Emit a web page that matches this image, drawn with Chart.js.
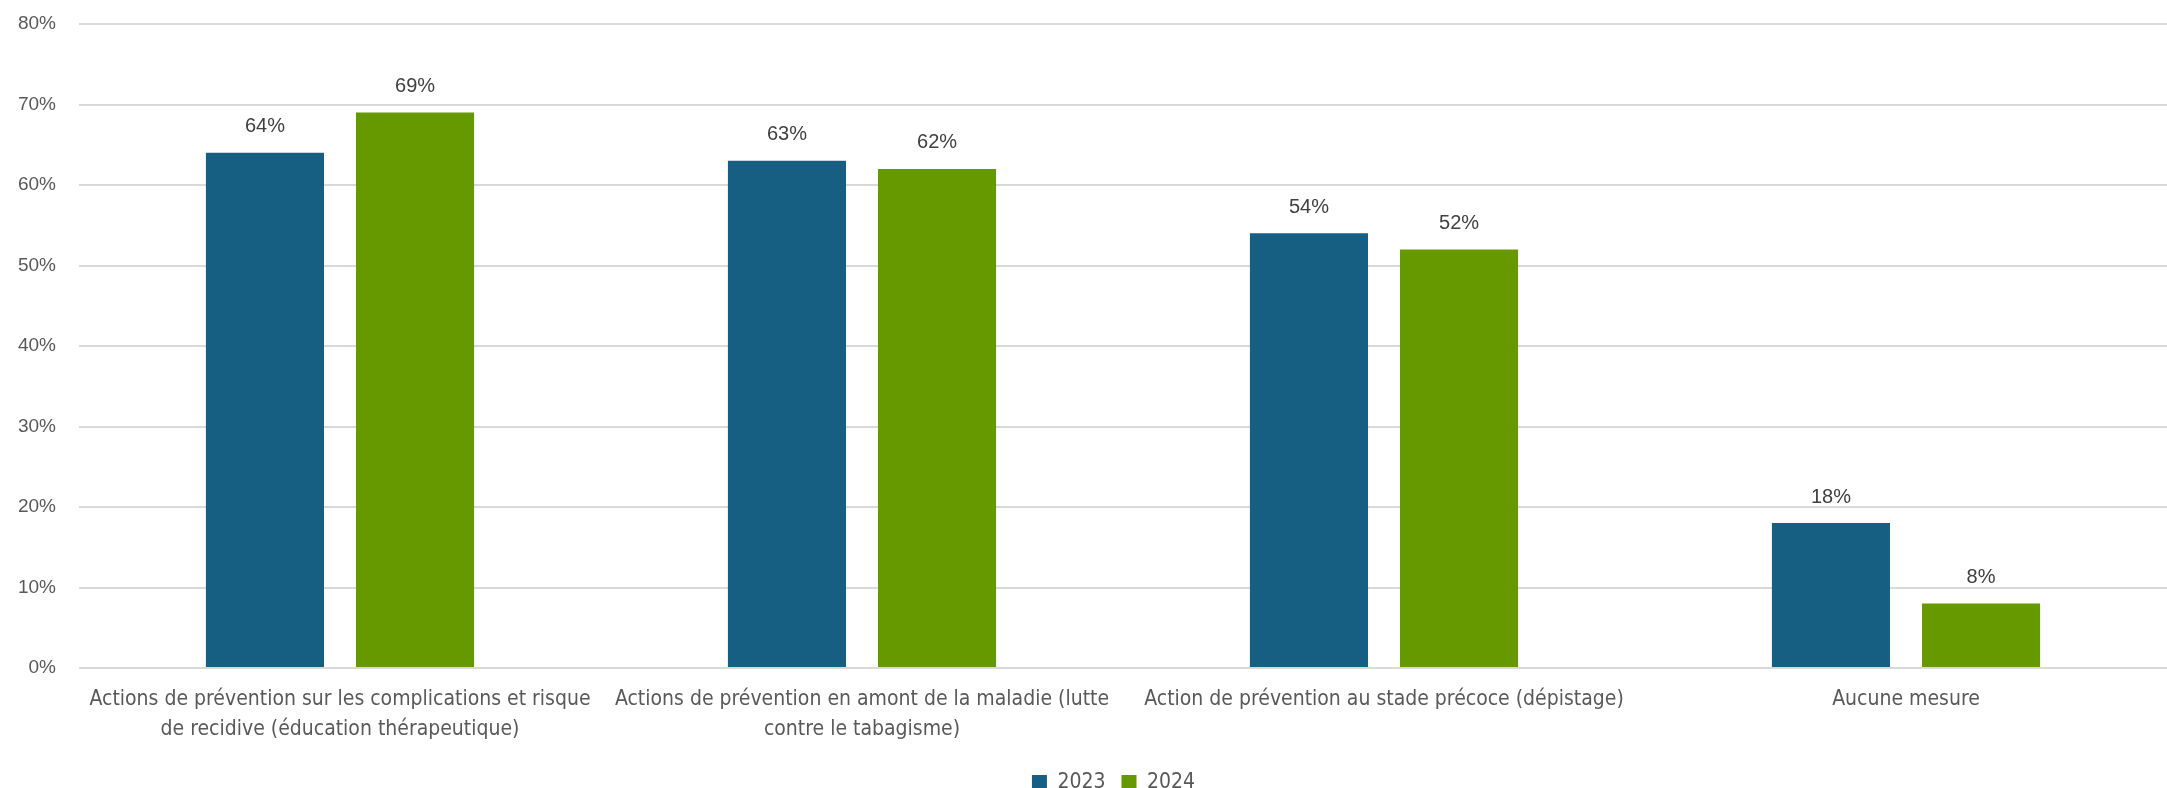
<!DOCTYPE html>
<html>
<head>
<meta charset="utf-8">
<script src="https://cdn.jsdelivr.net/npm/chart.js@4.4.1/dist/chart.umd.min.js"></script>
<style>
  html, body { margin: 0; padding: 0; background: #ffffff; }
  #wrap { width: 2167px; height: 788px; }
</style>
</head>
<body>
<div id="wrap"><canvas id="c" width="2167" height="788"></canvas></div>
<script>
const categories = [
  ["Actions de prévention sur les complications et risque", "de recidive (éducation thérapeutique)"],
  ["Actions de prévention en amont de la maladie (lutte", "contre le tabagisme)"],
  "Action de prévention au stade précoce (dépistage)",
  "Aucune mesure"
];
const seriesNames = ["2023", "2024"];
const values2023 = [64, 63, 54, 18];
const values2024 = [69, 62, 52, 8];
const yTicks = [0, 10, 20, 30, 40, 50, 60, 70, 80];

const BLUE = "#175F82";
const GREEN = "#669900";
const NARROW = "'DejaVu Sans Condensed', 'Liberation Sans', Arial, sans-serif";
const SANS = "'Liberation Sans', Arial, sans-serif";

const valueLabels = {
  id: "valueLabels",
  afterDatasetsDraw(chart) {
    const ctx = chart.ctx;
    ctx.save();
    ctx.font = "20px " + SANS;
    ctx.fillStyle = "#404040";
    ctx.textAlign = "center";
    ctx.textBaseline = "middle";
    chart.data.datasets.forEach((ds, i) => {
      const meta = chart.getDatasetMeta(i);
      meta.data.forEach((el, j) => {
        ctx.fillText(ds.data[j] + "%", el.x, el.y - 26);
      });
    });
    ctx.restore();
  }
};

const legendShift = {
  id: "legendShift",
  afterLayout(chart) {
    if (chart.legend) {
      chart.legend.left += 30;
      chart.legend.right += 30;
    }
  }
};

new Chart(document.getElementById("c"), {
  type: "bar",
  data: {
    labels: categories,
    datasets: [
      { label: seriesNames[0], data: values2023, backgroundColor: BLUE },
      { label: seriesNames[1], data: values2024, backgroundColor: GREEN }
    ]
  },
  options: {
    responsive: false,
    animation: false,
    devicePixelRatio: 1,
    layout: { padding: { top: 24, right: 0, left: 0, bottom: -15 } },
    datasets: { bar: { categoryPercentage: 0.575, barPercentage: 0.787 } },
    plugins: {
      tooltip: { enabled: false },
      legend: {
        position: "bottom",
        labels: {
          boxWidth: 15, boxHeight: 15, padding: 16,
          color: "#595959",
          font: { family: NARROW, size: 21 }
        }
      }
    },
    scales: {
      x: {
        grid: { display: false, drawTicks: false },
        border: { display: false },
        ticks: {
          color: "#595959",
          padding: 17,
          autoSkip: false,
          maxRotation: 0,
          font: { family: NARROW, size: 21, lineHeight: 1.4 }
        },
        afterFit(scale) { scale.height = 88; }
      },
      y: {
        min: 0, max: 80,
        afterBuildTicks(scale) { scale.ticks = yTicks.map(v => ({ value: v })); },
        grid: { color: "#D9D9D9", lineWidth: 2, drawTicks: false },
        border: { display: false },
        ticks: {
          color: "#595959",
          padding: 23,
          font: { family: SANS, size: 19 },
          callback: (v) => v + "%"
        },
        afterFit(scale) {
          scale.width = 79;
          scale.paddingTop = 0;
          scale.paddingBottom = 0;
        }
      }
    }
  },
  plugins: [valueLabels, legendShift]
});
</script>
</body>
</html>
